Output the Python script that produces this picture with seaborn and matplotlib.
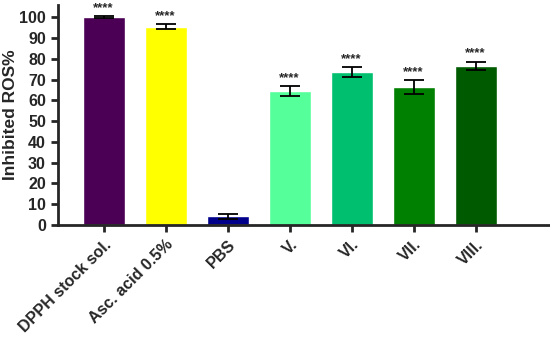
import numpy as np
import pandas as pd
import matplotlib
matplotlib.use('Agg')
import matplotlib.pyplot as plt
import seaborn as sns

# data
groups = ['DPPH stock sol.', 'Asc. acid 0.5%', 'PBS', 'V.', 'VI.', 'VII.', 'VIII.']
means = [100.0, 95.5, 4.2, 64.5, 73.5, 66.3, 76.6]
errs = [0.5, 1.1, 1.3, 2.2, 2.4, 3.3, 2.0]
stars = ['****', '****', '', '****', '****', '****', '****']
colors = ['#4b0055', '#ffff00', '#00008b', '#55ff99', '#00c070', '#008000', '#005a00']

df = pd.DataFrame({'group': groups, 'value': means})

sns.set_style('ticks')
plt.rcParams['font.family'] = ['Liberation Sans', 'DejaVu Sans']
plt.rcParams['font.weight'] = 'bold'

fig = plt.figure(figsize=(5.5, 3.4), dpi=100)
ax = fig.add_axes([0.105, 0.338, 0.895, 0.647])

sns.barplot(data=df, x='group', y='value', hue='group', palette=colors,
            width=0.68, legend=False, ax=ax, saturation=1)

x = np.arange(len(groups))
ax.errorbar(x, means, yerr=errs, fmt='none', ecolor='black',
            elinewidth=1.3, capsize=7, capthick=1.3)
for xi, m, e, s in zip(x, means, errs, stars):
    if s:
        ax.text(xi, m + e + 1.0, s, ha='center', va='bottom', fontsize=9.5,
                fontweight='bold')

ax.set_ylim(0, 105.8)
ax.set_xlim(-0.74, 7.2)
ax.set_yticks(range(0, 101, 10))
ax.set_xlabel('')
ax.set_ylabel('Inhibited ROS%', fontsize=12.5, fontweight='bold',
              ha='center', va='center')
ax.yaxis.set_label_coords(-0.095, 0.5)
ax.tick_params(axis='both', width=2, length=5, labelsize=11.5)
ax.set_xticks(x)
ax.set_xticklabels(groups, rotation=45, ha='right', rotation_mode='anchor',
                   fontweight='bold')
for lab in ax.get_yticklabels():
    lab.set_fontweight('bold')
for sp in ['left', 'bottom']:
    ax.spines[sp].set_linewidth(2)
sns.despine(ax=ax)

fig.savefig('out.png', dpi=100)
